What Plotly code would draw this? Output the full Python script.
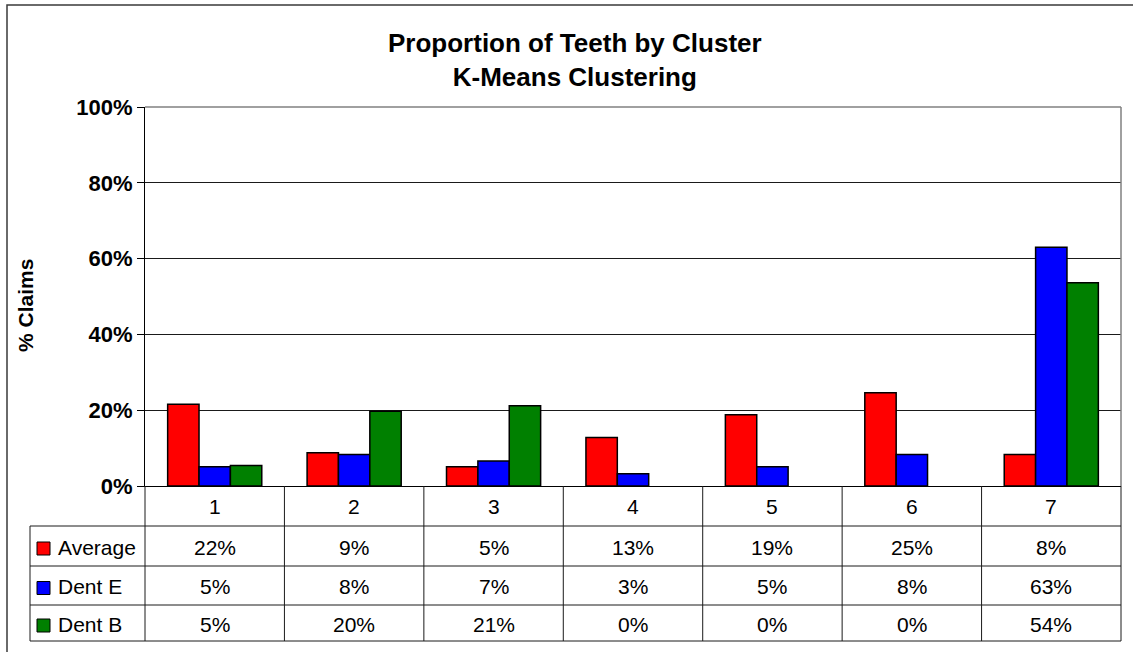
import plotly.graph_objects as go

# ---- data ----
clusters = ["1", "2", "3", "4", "5", "6", "7"]
series_names = ["Average", "Dent E", "Dent B"]
average = [21.6, 8.8, 5.1, 12.8, 18.8, 24.6, 8.3]
dent_e = [5.1, 8.3, 6.6, 3.2, 5.1, 8.3, 63.0]
dent_b = [5.4, 19.7, 21.2, 0.0, 0.0, 0.0, 53.6]
y_ticks = [0, 20, 40, 60, 80, 100]
y_tick_labels = ["0%", "20%", "40%", "60%", "80%", "100%"]
title_text = "Proportion of Teeth by Cluster<br>K-Means Clustering"
y_title = "% Claims"

colors = ["#FF0000", "#0000FF", "#008000"]
series_vals = [average, dent_e, dent_b]

W, H = 1133, 652
L, R, T, B = 145, 1121, 107, 486
FONT = "Liberation Sans, Arial, sans-serif"


def px_x(p):
    return (p - L) / (R - L)


def px_y(p):
    return (B - p) / (B - T)


xpos = list(range(len(clusters)))

fig = go.Figure()
for name, vals, col in zip(series_names, series_vals, colors):
    fig.add_trace(go.Bar(
        x=xpos, y=vals, name=name,
        marker=dict(color=col,
                    line=dict(color="black",
                              width=[1.5 if v > 0 else 0 for v in vals])),
        hoverinfo="y+name",
    ))

shapes = []
line_col = "#1a1a1a"
# outer chart frame
shapes.append(dict(type="rect", xref="paper", yref="paper",
                   x0=px_x(7), x1=px_x(1145), y0=px_y(665), y1=px_y(5),
                   line=dict(color="#3a3a3a", width=1.5), layer="below"))
# plot area top/right border (gray)
shapes.append(dict(type="line", xref="paper", yref="paper",
                   x0=0, x1=1, y0=1, y1=1,
                   line=dict(color="#808080", width=1.5)))
shapes.append(dict(type="line", xref="paper", yref="paper",
                   x0=1, x1=1, y0=0, y1=1,
                   line=dict(color="#808080", width=1.5)))

# data table
row_bounds = [486, 526, 566, 605, 641]
for yb in row_bounds[1:]:
    shapes.append(dict(type="line", xref="paper", yref="paper",
                       x0=px_x(30), x1=1, y0=px_y(yb), y1=px_y(yb),
                       line=dict(color=line_col, width=1)))
shapes.append(dict(type="line", xref="paper", yref="paper",
                   x0=px_x(30), x1=px_x(30), y0=px_y(526), y1=px_y(641),
                   line=dict(color=line_col, width=1)))
shapes.append(dict(type="line", xref="paper", yref="paper",
                   x0=0, x1=0, y0=0, y1=px_y(641),
                   line=dict(color=line_col, width=1)))
shapes.append(dict(type="line", xref="paper", yref="paper",
                   x0=1, x1=1, y0=0, y1=px_y(641),
                   line=dict(color=line_col, width=1)))
for i in range(len(clusters) - 1):
    shapes.append(dict(type="line", xref="x", yref="paper",
                       x0=i + 0.5, x1=i + 0.5, y0=0, y1=px_y(641),
                       line=dict(color=line_col, width=1)))

annotations = []
# header numbers
for i, c in zip(xpos, clusters):
    annotations.append(dict(x=i, y=px_y(506), xref="x", yref="paper",
                            text=c, showarrow=False,
                            font=dict(family=FONT, size=21, color="black"),
                            xanchor="center", yanchor="middle"))
row_centers = [546, 585.5, 623]
for name, vals, col, yc in zip(series_names, series_vals, colors, row_centers):
    shapes.append(dict(type="rect", xref="paper", yref="paper",
                       x0=px_x(37), x1=px_x(50), y0=px_y(yc + 9), y1=px_y(yc - 4),
                       fillcolor=col, line=dict(color="black", width=1)))
    annotations.append(dict(x=px_x(56), y=px_y(yc + 1), xref="paper", yref="paper",
                            text=name, showarrow=False,
                            font=dict(family=FONT, size=21, color="black"),
                            xanchor="left", yanchor="middle"))
    for i, v in zip(xpos, vals):
        annotations.append(dict(x=i, y=px_y(yc + 1), xref="x", yref="paper",
                                text=f"{v:.0f}%", showarrow=False,
                                font=dict(family=FONT, size=21, color="black"),
                                xanchor="center", yanchor="middle"))

# title
annotations.append(dict(x=px_x(575), y=px_y(60), xref="paper", yref="paper",
                        text="<b>" + title_text.replace("<br>", "</b><br><b>") + "</b>",
                        showarrow=False, align="center",
                        font=dict(family=FONT, size=26, color="black"),
                        xanchor="center", yanchor="middle"))
# y-axis title
annotations.append(dict(x=px_x(25), y=px_y(306), xref="paper", yref="paper",
                        text="<b>" + y_title + "</b>", textangle=-90,
                        showarrow=False,
                        font=dict(family=FONT, size=21, color="black"),
                        xanchor="center", yanchor="middle"))

fig.update_layout(
    width=W, height=H,
    margin=dict(l=L, r=W - R, t=T, b=H - B, pad=0),
    paper_bgcolor="white", plot_bgcolor="white",
    barmode="group", bargap=0.325, bargroupgap=0,
    showlegend=False,
    shapes=shapes, annotations=annotations,
    font=dict(family=FONT, color="black"),
)
fig.update_xaxes(
    range=[-0.5, len(clusters) - 0.5],
    showticklabels=False, ticks="", showgrid=False,
    showline=True, linecolor="black", linewidth=1, zeroline=False,
)
fig.update_yaxes(
    range=[0, 100], tickvals=y_ticks, ticktext=y_tick_labels,
    showgrid=True, gridcolor="#1a1a1a", gridwidth=1,
    showline=True, linecolor="black", linewidth=1,
    ticks="outside", ticklen=7, tickcolor="black",
    tickfont=dict(family=FONT, size=22, color="black", weight="bold"),
    zeroline=False,
)

fig.write_html(
    "out.html",
    config={"displayModeBar": False},
    post_script="document.body.style.margin='0';document.body.style.overflow='hidden';",
)
